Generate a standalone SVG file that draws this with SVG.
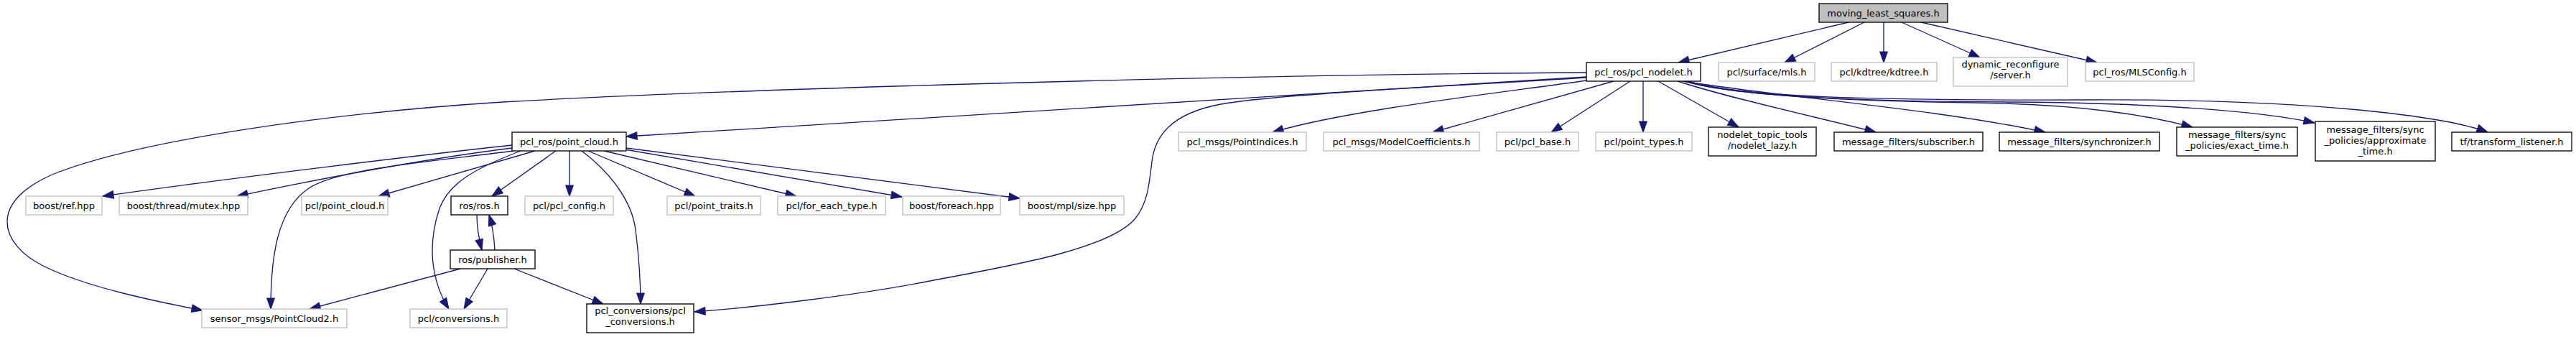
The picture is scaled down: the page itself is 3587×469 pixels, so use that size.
<svg xmlns="http://www.w3.org/2000/svg" width="3587" height="469" viewBox="0 0 3587 469">
<style>
text{font-family:"DejaVu Sans","Liberation Sans",sans-serif;font-size:13px;fill:#000;text-anchor:middle}
.b{fill:#fff;stroke:#000;stroke-width:1.33}
.g{fill:#fff;stroke:#bfbfbf;stroke-width:1.33}
.r{fill:#bfbfbf;stroke:#000;stroke-width:1.33}
#edges path{fill:none;stroke:#191970;stroke-width:1.33;marker-end:url(#a)}
</style>
<defs>
<marker id="a" markerUnits="userSpaceOnUse" markerWidth="15" markerHeight="11" refX="13.3" refY="4.67" orient="auto" viewBox="0 0 13.3 9.34" overflow="visible">
<path d="M0,0 L13.3,4.67 L0,9.34 Z" fill="#191970" stroke="#191970" stroke-width="1"/>
</marker>
</defs>
<rect width="3587" height="469" fill="#fff"/>
<g id="edges">
<path d="M2574,31 L2337,87"/>
<path d="M2596,31 L2485,87"/>
<path d="M2623,31 L2623,87"/>
<path d="M2648,31 L2757,80"/>
<path d="M2675,31 L2920,87"/>
<path d="M2209,101 C1700,104 1000,125 700,142 C450,158 200,195 80,240 C-20,280 0,340 60,370 C120,400 220,420 282,432"/>
<path d="M2209,107 L872,190"/>
<path d="M2209,108 C2000,121 1780,131 1700,145 C1630,158 1608,190 1604,225 C1600,260 1597,285 1580,305 C1545,345 1420,368 1300,390 C1200,410 1050,428 967,434"/>
<path d="M2209,112 C2100,128 1880,152 1772,184"/>
<path d="M2247,113 L1995,184"/>
<path d="M2270,113 L2160,184"/>
<path d="M2288,113 L2288,184"/>
<path d="M2309,113 L2421,177"/>
<path d="M2336,113 C2420,140 2540,165 2612,184"/>
<path d="M2343,113 C2480,135 2700,152 2848,184"/>
<path d="M2345,113 C2420,135 2600,141 2750,143 C2900,145 2990,160 3053,177"/>
<path d="M2348,113 C2420,135 2600,141 2800,142 C3000,143 3150,155 3223,171"/>
<path d="M2351,113 C2420,135 2600,140 2900,139 C3200,137 3400,160 3464,184"/>
<path d="M713,202 C600,214 320,248 143,273"/>
<path d="M713,206 C600,220 450,248 330,273"/>
<path d="M715,210 C600,225 470,235 430,262 C385,292 377,360 377,430"/>
<path d="M745,210 L527,273"/>
<path d="M725,210 C660,235 625,255 612,290 C595,340 600,390 625,430"/>
<path d="M774,210 L685,273"/>
<path d="M793,210 L793,273"/>
<path d="M819,210 L968,273"/>
<path d="M841,210 L1109,273"/>
<path d="M870,208 L1256,274"/>
<path d="M872,206 L1420,276"/>
<path d="M810,210 C850,240 880,280 885,320 C890,360 892,390 892,423"/>
<path d="M664,299 C664,318 667,333 671,348"/>
<path d="M689,348 C688,330 686,315 681,299"/>
<path d="M641,374 L431,430"/>
<path d="M679,374 L646,430"/>
<path d="M716,374 L840,423"/>
</g>
<g id="n_root"><rect class="r" x="2533" y="5" width="179" height="26"/><text x="2622.5" y="22.5">moving_least_squares.h</text></g>
<g id="n_nodelet"><rect class="b" x="2209" y="87" width="159" height="26"/><text x="2288.5" y="104.5">pcl_ros/pcl_nodelet.h</text></g>
<g id="n_mls"><rect class="g" x="2393" y="87" width="134" height="26"/><text x="2460" y="104.5">pcl/surface/mls.h</text></g>
<g id="n_kdtree"><rect class="g" x="2550" y="87" width="147" height="26"/><text x="2623.5" y="104.5">pcl/kdtree/kdtree.h</text></g>
<g id="n_dyn"><rect class="g" x="2720" y="80" width="159" height="40"/><text x="2799.5" y="94">dynamic_reconfigure</text><text x="2799.5" y="109">/server.h</text></g>
<g id="n_mlsconfig"><rect class="g" x="2904" y="87" width="151" height="26"/><text x="2979.5" y="104.5">pcl_ros/MLSConfig.h</text></g>
<g id="n_pointcloud"><rect class="b" x="713" y="184" width="159" height="26"/><text x="792.5" y="201.5">pcl_ros/point_cloud.h</text></g>
<g id="n_indices"><rect class="g" x="1641" y="184" width="178" height="26"/><text x="1730" y="201.5">pcl_msgs/PointIndices.h</text></g>
<g id="n_coeff"><rect class="g" x="1843" y="184" width="217" height="26"/><text x="1951.5" y="201.5">pcl_msgs/ModelCoefficients.h</text></g>
<g id="n_base"><rect class="g" x="2084" y="184" width="114" height="26"/><text x="2141" y="201.5">pcl/pcl_base.h</text></g>
<g id="n_types"><rect class="g" x="2222" y="184" width="134" height="26"/><text x="2289" y="201.5">pcl/point_types.h</text></g>
<g id="n_lazy"><rect class="b" x="2379" y="177" width="150" height="40"/><text x="2454" y="192">nodelet_topic_tools</text><text x="2454" y="207">/nodelet_lazy.h</text></g>
<g id="n_sub"><rect class="b" x="2554" y="184" width="207" height="26"/><text x="2657.5" y="201.5">message_filters/subscriber.h</text></g>
<g id="n_sync"><rect class="b" x="2784" y="184" width="223" height="26"/><text x="2895.5" y="201.5">message_filters/synchronizer.h</text></g>
<g id="n_exact"><rect class="b" x="3031" y="177" width="168" height="40"/><text x="3115" y="192">message_filters/sync</text><text x="3115" y="207">_policies/exact_time.h</text></g>
<g id="n_approx"><rect class="b" x="3224" y="169" width="167" height="55"/><text x="3307.5" y="185">message_filters/sync</text><text x="3307.5" y="200">_policies/approximate</text><text x="3307.5" y="215">_time.h</text></g>
<g id="n_tf"><rect class="b" x="3414" y="184" width="167" height="26"/><text x="3497.5" y="201.5">tf/transform_listener.h</text></g>
<g id="n_ref"><rect class="g" x="36" y="273" width="106" height="26"/><text x="89" y="290.5">boost/ref.hpp</text></g>
<g id="n_mutex"><rect class="g" x="166" y="273" width="179" height="26"/><text x="255.5" y="290.5">boost/thread/mutex.hpp</text></g>
<g id="n_pclpc"><rect class="g" x="420" y="273" width="120" height="26"/><text x="480" y="290.5">pcl/point_cloud.h</text></g>
<g id="n_ros"><rect class="b" x="628" y="273" width="79" height="26"/><text x="667.5" y="290.5">ros/ros.h</text></g>
<g id="n_config"><rect class="g" x="731" y="273" width="123" height="26"/><text x="792.5" y="290.5">pcl/pcl_config.h</text></g>
<g id="n_traits"><rect class="g" x="929" y="273" width="130" height="26"/><text x="994" y="290.5">pcl/point_traits.h</text></g>
<g id="n_foreachtype"><rect class="g" x="1083" y="273" width="150" height="26"/><text x="1158" y="290.5">pcl/for_each_type.h</text></g>
<g id="n_foreach"><rect class="g" x="1257" y="273" width="136" height="26"/><text x="1325" y="290.5">boost/foreach.hpp</text></g>
<g id="n_mplsize"><rect class="g" x="1420" y="273" width="145" height="26"/><text x="1492.5" y="290.5">boost/mpl/size.hpp</text></g>
<g id="n_pub"><rect class="b" x="627" y="348" width="118" height="26"/><text x="686" y="365.5">ros/publisher.h</text></g>
<g id="n_sensor"><rect class="g" x="281" y="430" width="202" height="26"/><text x="382" y="447.5">sensor_msgs/PointCloud2.h</text></g>
<g id="n_conv"><rect class="g" x="571" y="430" width="135" height="26"/><text x="638.5" y="447.5">pcl/conversions.h</text></g>
<g id="n_pclconv"><rect class="b" x="817" y="423" width="149" height="40"/><text x="891.5" y="437">pcl_conversions/pcl</text><text x="891.5" y="452">_conversions.h</text></g>
</svg>
